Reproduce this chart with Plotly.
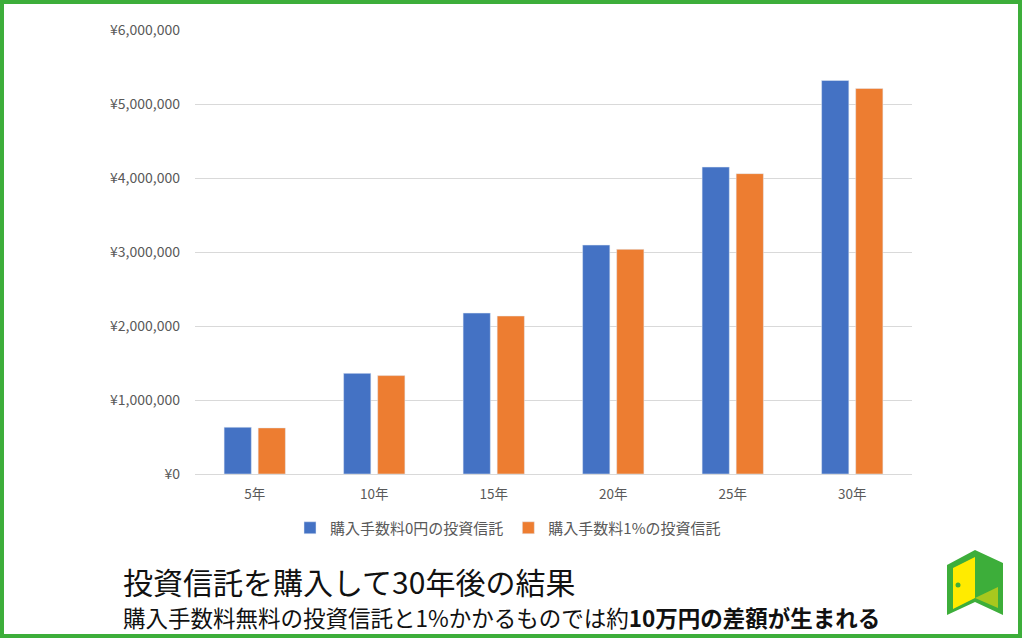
import plotly.graph_objects as go

categories = ["5年", "10年", "15年", "20年", "25年", "30年"]
series_free = [632000, 1360000, 2175000, 3094000, 4148000, 5318000]
series_fee = [623000, 1330000, 2135000, 3036000, 4059000, 5210000]
name_free = "購入手数料0円の投資信託"
name_fee = "購入手数料1%の投資信託"
y_ticks = [0, 1000000, 2000000, 3000000, 4000000, 5000000, 6000000]
y_ticktext = [f"¥{v:,}" for v in y_ticks]

W, H = 1024, 641
L, R, T, B = 195, 112, 30, 167
PW, PH = W - L - R, H - T - B

def px(x):
    return (x - L) / PW

def py(y):
    return (H - B - y) / PH

FONT = "Noto Sans CJK JP"
GRAY = "#595959"

fig = go.Figure()
fig.add_trace(go.Bar(x=categories, y=series_free, name=name_free, marker_color="#4472C4"))
fig.add_trace(go.Bar(x=categories, y=series_fee, name=name_fee, marker_color="#ED7D31"))

def path(points):
    return "M " + " L ".join(f"{px(a):.5f},{py(b):.5f}" for a, b in points) + " Z"

shapes = [
    dict(type="rect", xref="paper", yref="paper", x0=px(2), x1=px(1020), y0=py(2), y1=py(636),
         line=dict(color="#3DAE3A", width=4), fillcolor="rgba(0,0,0,0)", layer="above"),
    dict(type="path", xref="paper", yref="paper",
         path=path([(947, 565), (975, 550), (1003, 563), (1003, 615), (975, 602), (947, 615)]),
         fillcolor="#3DAE3A", line=dict(width=0)),
    dict(type="path", xref="paper", yref="paper",
         path=path([(953, 568), (975, 557), (975, 598), (953, 609)]),
         fillcolor="#FFEB00", line=dict(width=0)),
    dict(type="path", xref="paper", yref="paper",
         path=path([(975, 598), (998, 587), (998, 608)]),
         fillcolor="#A8C81E", line=dict(width=0)),
    dict(type="circle", xref="paper", yref="paper", x0=px(955.5), x1=px(960.5), y0=py(582.5), y1=py(587.5),
         fillcolor="#3DAE3A", line=dict(width=0)),
]

annotations = [
    dict(xref="paper", yref="paper", x=px(121), y=py(581), xanchor="left", yanchor="middle",
         text="投資信託を購入して30年後の結果", showarrow=False,
         font=dict(family=FONT, size=30, color="#111111")),
    dict(xref="paper", yref="paper", x=px(121), y=py(617), xanchor="left", yanchor="middle",
         text="購入手数料無料の投資信託と1%かかるものでは約<b>10万円の差額が生まれる</b>", showarrow=False,
         font=dict(family=FONT, size=22.5, color="#111111")),
]

fig.update_layout(
    width=W, height=H,
    margin=dict(l=L, r=R, t=T, b=B, pad=0),
    paper_bgcolor="white", plot_bgcolor="white",
    font=dict(family=FONT, size=13, color=GRAY),
    barmode="group", bargap=0.43, bargroupgap=0.2,
    showlegend=True,
    legend=dict(orientation="h", x=(508 - L) / PW, xanchor="center", y=py(528), yanchor="middle",
                font=dict(family=FONT, size=15, color=GRAY), itemwidth=30,
                bgcolor="rgba(0,0,0,0)", tracegroupgap=0),
    shapes=shapes,
    annotations=annotations,
)
fig.update_xaxes(showgrid=False, showline=True, linecolor="#d9d9d9", linewidth=1,
                 ticks="", tickfont=dict(size=13.5, color=GRAY), ticklabelstandoff=8)
fig.update_yaxes(range=[0, 6000000], tickvals=y_ticks, ticktext=y_ticktext,
                 showgrid=True, gridcolor="#d9d9d9", gridwidth=1, zeroline=False,
                 showline=False, ticks="", tickfont=dict(size=14, color=GRAY), ticklabelstandoff=14)

fig.write_html("out.html", config={"displayModeBar": False},
               post_script="document.body.style.margin='0px';")
